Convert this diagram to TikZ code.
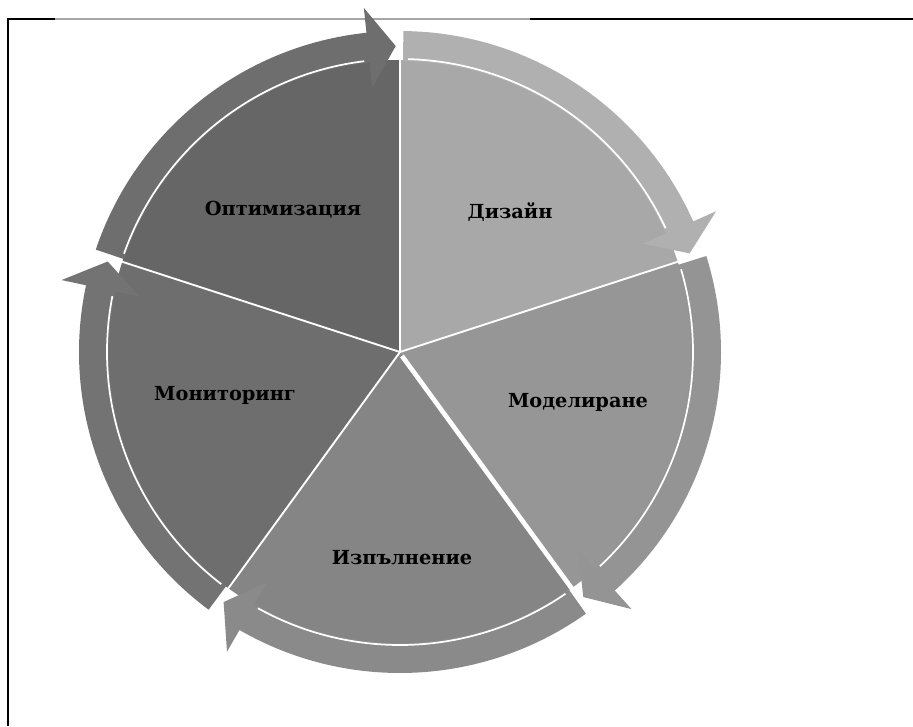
\documentclass[tikz,border=0pt]{standalone}
\usepackage{fontspec}
\setmainfont{DejaVu Serif}
\begin{document}
\begin{tikzpicture}[x=0.75pt,y=0.75pt,
  lbl/.style={font=\fontsize{14.5}{16}\selectfont\bfseries,inner sep=0pt},
  seam/.style={white,line width=1.4pt,line cap=round}]
\useasboundingbox (0,0) rectangle (913,726);
% frame
\draw[line width=1.8pt] (8,0) -- (8,707) -- (55,707);
\draw[line width=1.8pt] (530,707) -- (913,707);
\draw[line width=0.9pt,gray!70] (55,707) -- (530,707);
\begin{scope}[shift={(400,374)}]
% slices
\foreach \a/\b/\sc in {90/18/0.66, 18/-54/0.59, -54/-126/0.52, -126/-198/0.43, 162/90/0.40} {
  \definecolor{slicecol}{gray}{\sc}
  \fill[slicecol] (0,0) -- (\a:292) arc[start angle=\a,end angle=\b,radius=292] -- cycle;
}
% seams between slices
\foreach \a in {90,18,-126,162} {\draw[seam] (0,0) -- (\a:300);}
\draw[white,line width=3.5pt] (2,-4) -- (-54:300);
% arrow bands
\foreach \a/\b/\bc in {90/18/0.69, 18/-54/0.58, -54/-126/0.54, -126/-198/0.45, 162/90/0.43} {
  \definecolor{bandcol}{gray}{\bc}
  \pgfmathsetmacro\w{\b+6}
  \pgfmathsetmacro\t{\b+0.8}
  \pgfmathsetmacro\s{\a-0.6}
  \fill[bandcol]
    (\s:321) arc[start angle=\s,end angle=\w,radius=321] -- (\w:346) -- (\t:306)
    -- (\w:266) -- (\w:291) arc[start angle=\w,end angle=\s,radius=291] -- cycle;
  \draw[white,line width=1.3pt] (\s-1:293) arc[start angle=\s-1,end angle=\w+1,radius=293];
}
\end{scope}
% labels
\node[lbl] (opt) at (283,516) {Оптимизация};
\node[lbl] (diz) at (510,514) {Дизайн};
\node[lbl] (mod) at (578,324) {Моделиране};
\node[lbl] (mon) at (225,331) {Мониторинг};
\node[lbl] (izp) at (402,168) {Изпълнение};
\end{tikzpicture}
\end{document}
